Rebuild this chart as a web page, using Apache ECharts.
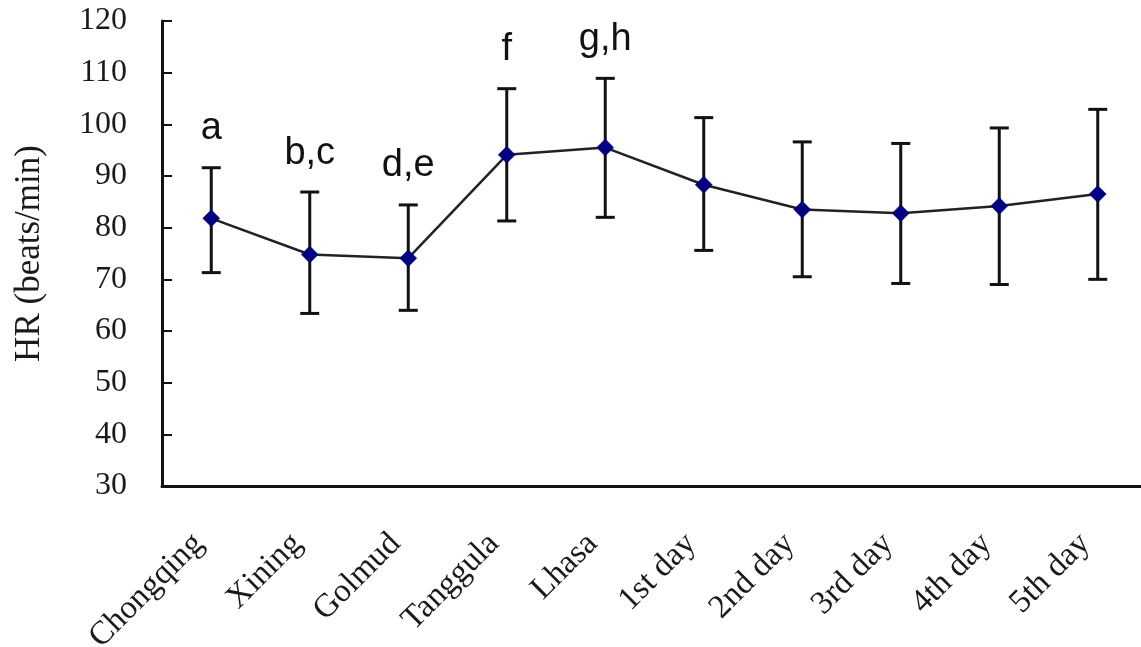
<!DOCTYPE html>
<html>
<head>
<meta charset="utf-8">
<script src="https://cdn.jsdelivr.net/npm/echarts@6/dist/echarts.min.js"></script>
<style>
  html, body { margin: 0; padding: 0; background: #fff; }
  #chart { width: 1141px; height: 647px; }
</style>
</head>
<body>
<div id="chart"></div>
<script>
// 各地点/天数
var categories = ['Chongqing', 'Xining', 'Golmud', 'Tanggula', 'Lhasa', '1st day', '2nd day', '3rd day', '4th day', '5th day'];
// 心率均值
var hrMean = [81.8, 74.8, 74.1, 94.1, 95.5, 88.3, 83.5, 82.8, 84.2, 86.5];
// 误差线上下端
var hrUpper = [91.6, 86.9, 84.4, 106.9, 108.9, 101.3, 96.6, 96.3, 99.3, 102.9];
var hrLower = [71.3, 63.4, 64.0, 81.3, 82.0, 75.6, 70.5, 69.2, 69.0, 70.0];
// 显著性标记
var sigLetters = ['a', 'b,c', 'd,e', 'f', 'g,h', '', '', '', '', ''];

var myChart = echarts.init(document.getElementById('chart'));

var errData = categories.map(function (c, i) {
  return [i, hrUpper[i], hrLower[i]];
});

var option = {
  backgroundColor: '#ffffff',
  animation: false,
  grid: {
    left: 162,
    top: 21,
    width: 985,
    height: 465,
    containLabel: false,
    outerBoundsMode: 'none'
  },
  xAxis: {
    type: 'category',
    data: categories,
    boundaryGap: true,
    axisLine: {
      lineStyle: { color: '#111', width: 3 }
    },
    axisTick: {
      inside: true,
      length: 10,
      lineStyle: { color: '#111', width: 2 }
    },
    axisLabel: {
      interval: 0,
      rotate: 45,
      margin: 40,
      padding: [0, 18, 0, 0],
      color: '#1a1a1a',
      fontFamily: 'Liberation Serif',
      fontSize: 33
    },
    splitLine: { show: false }
  },
  yAxis: {
    type: 'value',
    min: 30,
    max: 120,
    interval: 10,
    name: 'HR (beats/min)',
    nameLocation: 'middle',
    nameGap: 115,
    nameRotate: 90,
    nameTextStyle: {
      color: '#1a1a1a',
      fontFamily: 'Liberation Serif',
      fontSize: 35
    },
    axisLine: {
      show: true,
      lineStyle: { color: '#111', width: 3 }
    },
    axisTick: {
      show: true,
      inside: true,
      length: 10,
      lineStyle: { color: '#111', width: 2 }
    },
    axisLabel: {
      margin: 35,
      color: '#1a1a1a',
      fontFamily: 'Liberation Serif',
      fontSize: 32
    },
    splitLine: { show: false }
  },
  series: [
    {
      // 误差线
      type: 'custom',
      z: 1,
      data: errData,
      renderItem: function (params, api) {
        var top = api.coord([api.value(0), api.value(1)]);
        var bot = api.coord([api.value(0), api.value(2)]);
        var half = 9.5;
        var st = { stroke: '#111', lineWidth: 3 };
        var children = [
          { type: 'line', shape: { x1: top[0], y1: top[1], x2: bot[0], y2: bot[1] }, style: st },
          { type: 'line', shape: { x1: top[0] - half, y1: top[1], x2: top[0] + half, y2: top[1] }, style: st },
          { type: 'line', shape: { x1: bot[0] - half, y1: bot[1], x2: bot[0] + half, y2: bot[1] }, style: st }
        ];
        var txt = sigLetters[params.dataIndex];
        if (txt) {
          children.push({
            type: 'text',
            x: top[0],
            y: top[1] - 20,
            style: {
              text: txt,
              fill: '#111',
              font: '38px "Liberation Sans"',
              align: 'center',
              verticalAlign: 'bottom'
            }
          });
        }
        return { type: 'group', children: children };
      }
    },
    {
      name: 'HR',
      type: 'line',
      z: 3,
      data: hrMean,
      symbol: 'diamond',
      symbolSize: 17,
      itemStyle: { color: '#000080', borderColor: '#000060', borderWidth: 0.5 },
      lineStyle: { color: '#222', width: 2.5 }
    }
  ]
};

option && myChart.setOption(option);
</script>
</body>
</html>
